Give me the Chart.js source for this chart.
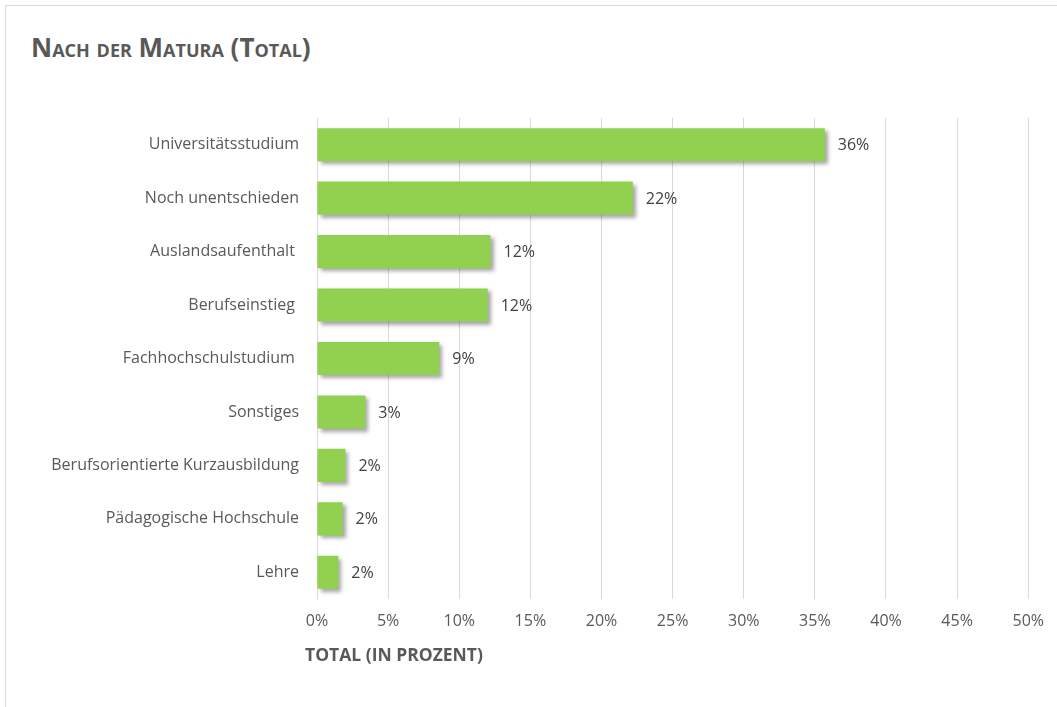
<!DOCTYPE html>
<html>
<head>
<meta charset="utf-8">
<script src="https://cdn.jsdelivr.net/npm/chart.js@4"></script>
<style>
  html, body { margin: 0; padding: 0; background: #fff; overflow: hidden; }
  #wrap { position: relative; width: 1057px; height: 707px; }
  #frame {
    position: absolute; left: 5px; top: 5px; width: 1100px; height: 800px;
    border-left: 1px solid #d9d9d9; border-top: 1px solid #d9d9d9;
  }
  #title {
    position: absolute; left: 31px; top: 29px;
    font-family: "Open Sans", sans-serif; font-weight: bold; font-size: 26px;
    font-variant: small-caps; color: #595959; white-space: nowrap;
  }
  canvas { position: absolute; left: 0; top: 0; }
</style>
</head>
<body>
<div id="wrap">
  <div id="frame"></div>
  <div id="title">Nach der Matura (Total)</div>
  <canvas id="chart" width="1057" height="707"></canvas>
</div>
<script>
// categories and values (percent)
const categories = [
  "Universitätsstudium",
  "Noch unentschieden",
  "Auslandsaufenthalt ",
  "Berufseinstieg ",
  "Fachhochschulstudium ",
  "Sonstiges",
  "Berufsorientierte Kurzausbildung",
  "Pädagogische Hochschule",
  "Lehre",
];
const totals = [35.7, 22.2, 12.2, 12.0, 8.6, 3.4, 2.0, 1.8, 1.5];
const xTicks = [0, 5, 10, 15, 20, 25, 30, 35, 40, 45, 50];
const axisTitle = "TOTAL (IN PROZENT)";

const textColor = "#595959";
const fontFamily = "'Open Sans', sans-serif";

// soft drop shadow under the bars
const barShadow = {
  id: "barShadow",
  beforeDatasetDraw(chart) {
    const ctx = chart.ctx;
    ctx.save();
    ctx.shadowColor = "rgba(0,0,0,0.35)";
    ctx.shadowBlur = 4;
    ctx.shadowOffsetX = 3;
    ctx.shadowOffsetY = 3;
  },
  afterDatasetDraw(chart) {
    chart.ctx.restore();
  },
};

// value labels at the end of each bar + axis title
const valueLabels = {
  id: "valueLabels",
  afterDatasetsDraw(chart) {
    const ctx = chart.ctx;
    const meta = chart.getDatasetMeta(0);
    ctx.save();
    ctx.font = "16px " + fontFamily;
    ctx.fillStyle = "#404040";
    ctx.textAlign = "left";
    ctx.textBaseline = "middle";
    meta.data.forEach((bar, i) => {
      ctx.fillText(Math.round(totals[i]) + "%", bar.x + 13, bar.y + 1);
    });

    // x axis title, sits a bit left of the plot start
    ctx.font = "bold 17.5px " + fontFamily;
    ctx.fillStyle = textColor;
    ctx.fillText(axisTitle, chart.chartArea.left - 12, 656);
    ctx.restore();
  },
};

new Chart(document.getElementById("chart"), {
  type: "bar",
  data: {
    labels: categories,
    datasets: [
      {
        label: "Total",
        data: totals,
        backgroundColor: "#92d050",
        borderWidth: 0,
        barPercentage: 0.62,
        categoryPercentage: 1,
      },
    ],
  },
  options: {
    indexAxis: "y",
    responsive: false,
    animation: false,
    layout: {
      padding: { top: 118, left: 0, right: 25, bottom: 0 },
    },
    scales: {
      x: {
        min: 0,
        max: 50,
        afterBuildTicks: (scale) => {
          scale.ticks = xTicks.map((v) => ({ value: v }));
        },
        afterFit: (scale) => {
          scale.height = 108;
        },
        grid: { color: "#d9d9d9", drawTicks: false },
        border: { display: false },
        ticks: {
          padding: 13,
          color: textColor,
          font: { family: fontFamily, size: 16 },
          callback: (v) => v + "%",
        },
      },
      y: {
        afterFit: (scale) => {
          scale.width = 317;
        },
        grid: { display: false },
        border: { display: true, color: "#d9d9d9" },
        ticks: {
          padding: 10,
          color: textColor,
          font: { family: fontFamily, size: 16 },
        },
      },
    },
    plugins: {
      legend: { display: false },
      tooltip: { enabled: false },
    },
  },
  plugins: [barShadow, valueLabels],
});
</script>
</body>
</html>
